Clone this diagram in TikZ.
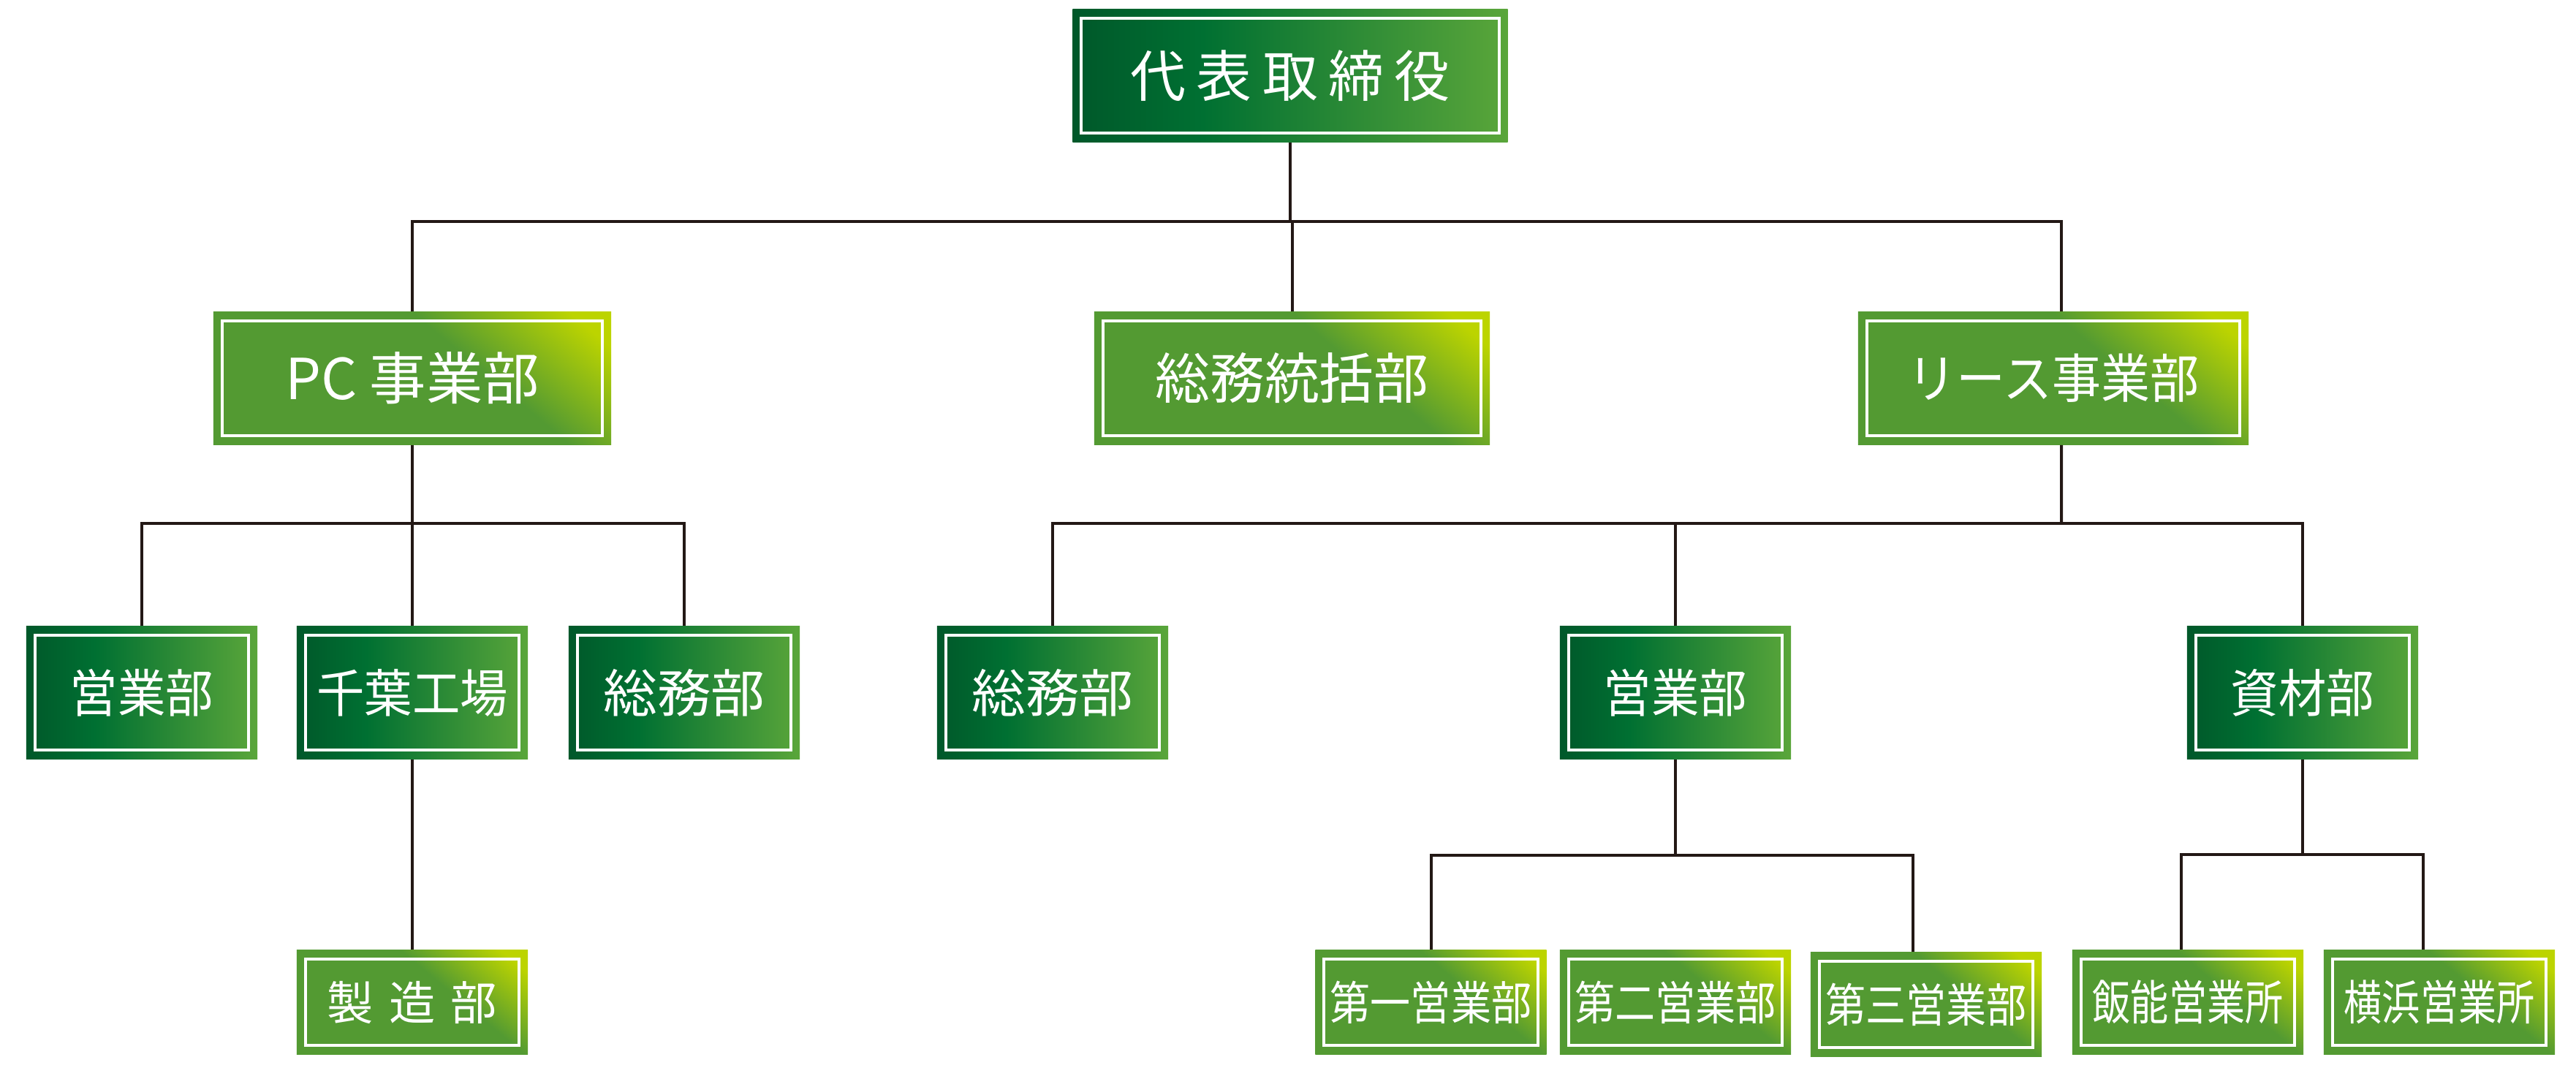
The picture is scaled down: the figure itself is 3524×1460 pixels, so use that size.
\documentclass[tikz,border=0pt]{standalone}
\usepackage{fontspec}
\newfontfamily\jp{Noto Sans CJK JP}
\newfontfamily\jpwide[FakeStretch=1.05]{Noto Sans CJK JP}
\newfontfamily\jpmid[FakeStretch=0.93]{Noto Sans CJK JP}
\newfontfamily\jpcond[FakeStretch=0.87]{Noto Sans CJK JP}
\newfontfamily\jpnarrow[FakeStretch=0.8]{Noto Sans CJK JP}

\definecolor{darkA}{RGB}{0,88,42}
\definecolor{darkB}{RGB}{0,112,50}
\definecolor{darkC}{RGB}{90,166,58}
\definecolor{leafA}{RGB}{83,154,50}
\definecolor{leafB}{RGB}{188,212,0}
\definecolor{linecol}{RGB}{35,24,21}

% box shadings
\pgfdeclarehorizontalshading{darkshade}{100bp}{color(0bp)=(darkA); color(25bp)=(darkA);
  color(40bp)=(darkB); color(75bp)=(darkC); color(100bp)=(darkC)}
\pgfdeclarehorizontalshading{leafshade}{100bp}{color(0bp)=(leafA); color(60bp)=(leafA);
  color(80bp)=(leafB); color(100bp)=(leafB)}

\begin{document}
\begin{tikzpicture}[x=0.01cm, y=-0.01cm]

        % one unit is one pixel of the chart, y runs downwards
        \tikzset{
            box/.style={shade, inner sep=0pt, text=white, minimum height=1.81cm,
                path picture={\draw[white, line width=0.04cm]
                    ([shift={(12,12)}]path picture bounding box.north west) rectangle
                    ([shift={(-12,-12)}]path picture bounding box.south east);}},
            darkbox/.style={box, shading=darkshade, shading angle=0},
            leafbox/.style={box, shading=leafshade, shading angle=50},
            lowbox/.style={minimum height=1.42cm, minimum width=3.16cm},
            midbox/.style={minimum width=3.16cm},
            conn/.style={draw=linecol, line width=0.04cm},
        }

        \useasboundingbox (0,0) rectangle (3524,1460);

        % Top of the chart
        \node[darkbox, minimum width=5.95cm, font=\jp\fontsize{21.6}{26}\selectfont]
            (ceo) at (1765,103.5) {代\hspace{4pt}表\hspace{4pt}取\hspace{4pt}締\hspace{4pt}役};

        % Divisions
        \node[leafbox, minimum width=5.44cm, font=\jp\fontsize{22}{26}\selectfont]
            (pc) at (564,517.5) {PC 事業部};
        \node[leafbox, minimum width=5.41cm, font=\jp\fontsize{21.3}{26}\selectfont]
            (hq) at (1767.5,517.5) {総務統括部};
        \node[leafbox, minimum width=5.34cm, font=\jpmid\fontsize{20.5}{26}\selectfont]
            (lease) at (2809,517.5) {リース事業部};

        % Departments
        \node[darkbox, midbox, font=\jpmid\fontsize{20}{24}\selectfont]
            (salesL) at (194,947.5) {営業部};
        \node[darkbox, midbox, font=\jpmid\fontsize{20}{24}\selectfont]
            (chiba) at (564,947.5) {千葉工場};
        \node[darkbox, midbox, font=\jpwide\fontsize{20}{24}\selectfont]
            (adminL) at (936,947.5) {総務部};
        \node[darkbox, midbox, font=\jpwide\fontsize{20}{24}\selectfont]
            (adminR) at (1440,947.5) {総務部};
        \node[darkbox, midbox, font=\jpmid\fontsize{20}{24}\selectfont]
            (salesR) at (2292,947.5) {営業部};
        \node[darkbox, midbox, font=\jpmid\fontsize{20}{24}\selectfont]
            (stock) at (3150,947.5) {資材部};

        % Sections
        \node[leafbox, lowbox, font=\jp\fontsize{18}{22}\selectfont]
            (make) at (564,1371) {製\hspace{6pt}造\hspace{6pt}部};
        \node[leafbox, lowbox, font=\jpcond\fontsize{18}{22}\selectfont]
            (sec1) at (1957.5,1371) {第一営業部};
        \node[leafbox, lowbox, font=\jpcond\fontsize{18}{22}\selectfont]
            (sec2) at (2292,1371) {第二営業部};
        \node[leafbox, lowbox, font=\jpcond\fontsize{18}{22}\selectfont]
            (sec3) at (2635,1374) {第三営業部};
        \node[leafbox, lowbox, font=\jpnarrow\fontsize{18.5}{22}\selectfont]
            (hanno) at (2993,1371) {飯能営業所};
        \node[leafbox, lowbox, font=\jpnarrow\fontsize{18.5}{22}\selectfont]
            (yoko) at (3337,1371) {横浜営業所};

        % Joints of the connector lines
        \coordinate (bus0) at (1765,303);
        \coordinate (bus1) at (564,716);
        \coordinate (bus2) at (2820,716);
        \coordinate (bus3) at (2292,1170);
        \coordinate (bus4) at (3150,1169);

        \begin{scope}[conn]
            \draw (ceo.south) -- (ceo.south |- bus0);
            \draw (pc.north) |- (bus0) -| ([xshift=0.11cm]lease.north);
            \draw (hq.north |- bus0) -- (hq.north);

            \draw (pc.south) -- (bus1);
            \draw (salesL.north) |- (bus1) -| (adminL.north);
            \draw (bus1) -- (chiba.north);
            \draw (chiba.south) -- (make.north);

            \draw ([xshift=0.11cm]lease.south) -- (bus2);
            \draw (adminR.north) |- (bus2) -| (stock.north);
            \draw (salesR.north) -- (salesR.north |- bus2);

            \draw (salesR.south) -- (bus3);
            \draw (sec1.north) |- (bus3) -| ([xshift=-0.18cm]sec3.north);

            \draw (stock.south) -- (bus4);
            \draw ([xshift=-0.09cm]hanno.north) |- (bus4) -| ([xshift=-0.22cm]yoko.north);
        \end{scope}
\end{tikzpicture}
\end{document}
